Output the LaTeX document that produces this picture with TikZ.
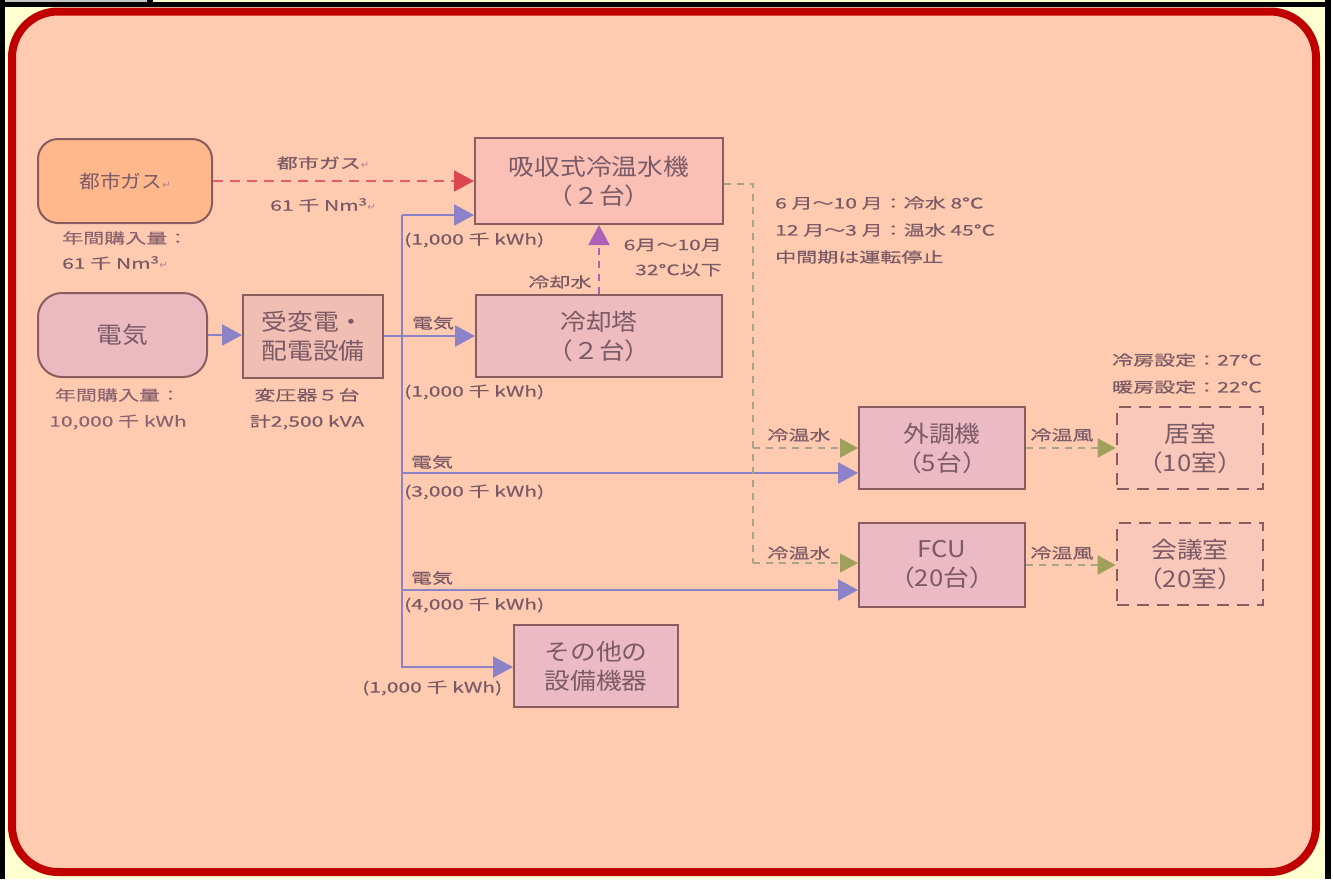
\documentclass[tikz,border=0pt]{standalone}
\usepackage{fontspec}
\setmainfont{Noto Sans CJK JP}
\newfontfamily\bigjp[FakeStretch=1.12]{Noto Sans CJK JP}
\newfontfamily\smjp[FakeStretch=1.45,FakeBold=0.4]{Noto Sans CJK JP}
\newfontfamily\dvfont{DejaVu Sans}
\usetikzlibrary{arrows.meta}
\definecolor{peach}{RGB}{255,203,176}
\definecolor{ylw}{RGB}{255,255,208}
\definecolor{frame}{RGB}{192,0,0}
\definecolor{txt}{RGB}{122,90,102}
\definecolor{txtl}{RGB}{140,100,112}
\definecolor{retc}{RGB}{175,130,140}
\definecolor{boxb}{RGB}{138,92,96}
\definecolor{gasf}{RGB}{255,184,140}
\definecolor{elecf}{RGB}{234,186,192}
\definecolor{subf}{RGB}{240,190,178}
\definecolor{absf}{RGB}{250,192,182}
\definecolor{ctf}{RGB}{238,188,190}
\definecolor{unitf}{RGB}{236,186,196}
\definecolor{roomf}{RGB}{250,200,186}
\definecolor{bluec}{RGB}{140,130,200}
\definecolor{redc}{RGB}{228,92,110}
\definecolor{redt}{RGB}{220,70,80}
\definecolor{purc}{RGB}{172,96,184}
\definecolor{grayc}{RGB}{165,165,140}
\definecolor{olive}{RGB}{160,160,92}
\newcommand{\ret}{{\dvfont\fontsize{10}{10}\selectfont\color{retc}↵}}
\tikzset{
  box/.style={draw=boxb, line width=2pt, align=center, inner sep=0pt,
    text=txt, font=\bigjp\fontsize{23}{29}\selectfont},
  rbox/.style={box, rounded corners=20pt},
  dbox/.style={box, line width=2.6pt, dash pattern=on 12pt off 8pt, fill=roomf},
  lbl/.style={inner sep=0pt, text=txt, font=\smjp\fontsize{14.5}{16}\selectfont},
  lbll/.style={lbl, text=txtl},
  el/.style={draw=bluec, line width=2.3pt, -{Triangle[length=20pt,width=21pt]}},
  gasline/.style={draw=redc, line width=2pt, dash pattern=on 10pt off 7pt,
    -{Triangle[length=20pt,width=21pt,color=redt]}},
  cwline/.style={draw=purc, line width=2pt, dash pattern=on 7pt off 6pt,
    -{Triangle[length=20pt,width=21pt]}},
  chw/.style={draw=grayc, line width=1.8pt, dash pattern=on 7pt off 6pt},
  chwa/.style={chw, -{Triangle[length=18pt,width=19pt,color=olive]}},
}
\begin{document}
\begin{tikzpicture}[x=1pt,y=-1pt]
\useasboundingbox (0,0) rectangle (1333,879);
% outer frame
\fill[white] (0,0) rectangle (1333,879);
\fill[ylw] (0,0) rectangle (1331,879);
\fill[black] (0,2) rectangle (1331,7);
\fill[black] (0,0) rectangle (5,879);
\fill[black] (1325,0) rectangle (1331,879);
\fill[black] (147,0) rectangle (153,2);
\fill[black!22] (5,0) rectangle (147,2);
\draw[frame, line width=8pt, fill=peach, rounded corners=46pt] (12,11.5) rectangle (1316,872);

% nodes
\node[rbox, fill=gasf, minimum width=174pt, minimum height=84pt, font=\bigjp\fontsize{18.5}{22}\selectfont] (gas) at (125,181) {都市ガス\ret};
\node[rbox, fill=elecf, minimum width=169pt, minimum height=84pt, rounded corners=24pt] (elec) at (122.5,335) {電気};
\node[box, fill=subf, minimum width=140pt, minimum height=83pt] (sub) at (313,336) {受変電・\\配電設備};
\node[box, fill=absf, minimum width=248pt, minimum height=86pt] (abs) at (599,181) {吸収式冷温水機\\（２台）};
\node[box, fill=ctf, minimum width=246pt, minimum height=82pt] (ct) at (599,336) {冷却塔\\（２台）};
\node[box, fill=unitf, minimum width=166pt, minimum height=82pt] (ahu) at (942,448) {外調機\\（5台）};
\node[box, fill=unitf, minimum width=166pt, minimum height=84pt] (fcu) at (942,565) {FCU\\（20台）};
\node[box, fill=unitf, minimum width=164pt, minimum height=82pt] (other) at (596,666) {その他の\\設備機器};
\node[dbox, minimum width=146pt, minimum height=82pt] (room) at (1190,448) {居室\\（10室）};
\node[dbox, minimum width=146pt, minimum height=82pt] (conf) at (1190,564) {会議室\\（20室）};

% connectors
\coordinate (tt) at (402,215);
\coordinate (tb) at (402,667);
\coordinate (t3) at (402,473);
\coordinate (t4) at (402,590);
\draw[gasline] (gas.east) -- (gas.east -| abs.west);
\draw[el] (elec.east) -- (elec.east -| sub.west);
\draw[el] (sub.east) -- (sub.east -| ct.west);
\draw[el] (tt) -- (tt -| abs.west);
\draw[el] (tt) -- (tb) -- (tb -| other.west);
\draw[el] (t3) -- (t3 -| ahu.west);
\draw[el] (t4) -- (t4 -| fcu.west);
\draw[cwline] (ct.north) -- (abs.south);
\coordinate (g0) at (753,184);
\coordinate (g1) at (753,448);
\coordinate (g2) at (753,563);
\draw[chw] (abs.east |- g0) -- (g0) -- (g2);
\draw[chwa] (g2) -- (g2 -| fcu.west);
\draw[chwa] (g1) -- (g1 -| ahu.west);
\draw[chwa] (ahu.east) -- (room.west);
\draw[chwa] (fcu.east) -- (fcu.east -| conf.west);

% labels
\node[lbl] (lgas1) at (323,163) {都市ガス\ret};
\node[lbl] (lgas2) at (323,205) {61 千 Nm\textsuperscript{3}\ret};
\node[lbll, anchor=west] (lgas3) at (62,238) {年間購入量：};
\node[lbl, anchor=west] (lgas4) at (62,263) {61 千 Nm\textsuperscript{3}\ret};
\node[lbll] (lel1) at (118,395) {年間購入量：};
\node[lbll] (lel2) at (118,422) {10,000 千 kWh};
\node[lbl] (lsub1) at (307,395) {変圧器５台};
\node[lbl] (lsub2) at (307,422) {計2,500 kVA};
\node[lbl, anchor=west] (labs) at (404,240) {(1,000 千 kWh)};
\node[lbl] (lct1) at (433,323) {電気};
\node[lbl, anchor=west] (lct2) at (404,392) {(1,000 千 kWh)};
\node[lbl] (lcw) at (560,282) {冷却水};
\node[lbl, anchor=east] (lcw2) at (722,245) {6月～10月};
\node[lbl, anchor=east] (lcw3) at (722,270) {32°C以下};
\node[lbl, anchor=west] (lt1) at (775,203) {6 月～10 月：冷水 8°C};
\node[lbl, anchor=west] (lt2) at (775,230) {12 月～3 月：温水 45°C};
\node[lbl, anchor=west] (lt3) at (775,257) {中間期は運転停止};
\node[lbl, anchor=east] (lr1) at (1262,360) {冷房設定：27°C};
\node[lbl, anchor=east] (lr2) at (1262,387) {暖房設定：22°C};
\node[lbl] (lw1) at (799,435) {冷温水};
\node[lbl] (la1) at (1062,435) {冷温風};
\node[lbl] (lw2) at (799,553) {冷温水};
\node[lbl] (la2) at (1062,553) {冷温風};
\node[lbl] (le3) at (432,462) {電気};
\node[lbl, anchor=west] (lk3) at (404,492) {(3,000 千 kWh)};
\node[lbl] (le4) at (432,578) {電気};
\node[lbl, anchor=west] (lk4) at (404,605) {(4,000 千 kWh)};
\node[lbl, anchor=west] (lk5) at (362,688) {(1,000 千 kWh)};
\end{tikzpicture}
\end{document}
